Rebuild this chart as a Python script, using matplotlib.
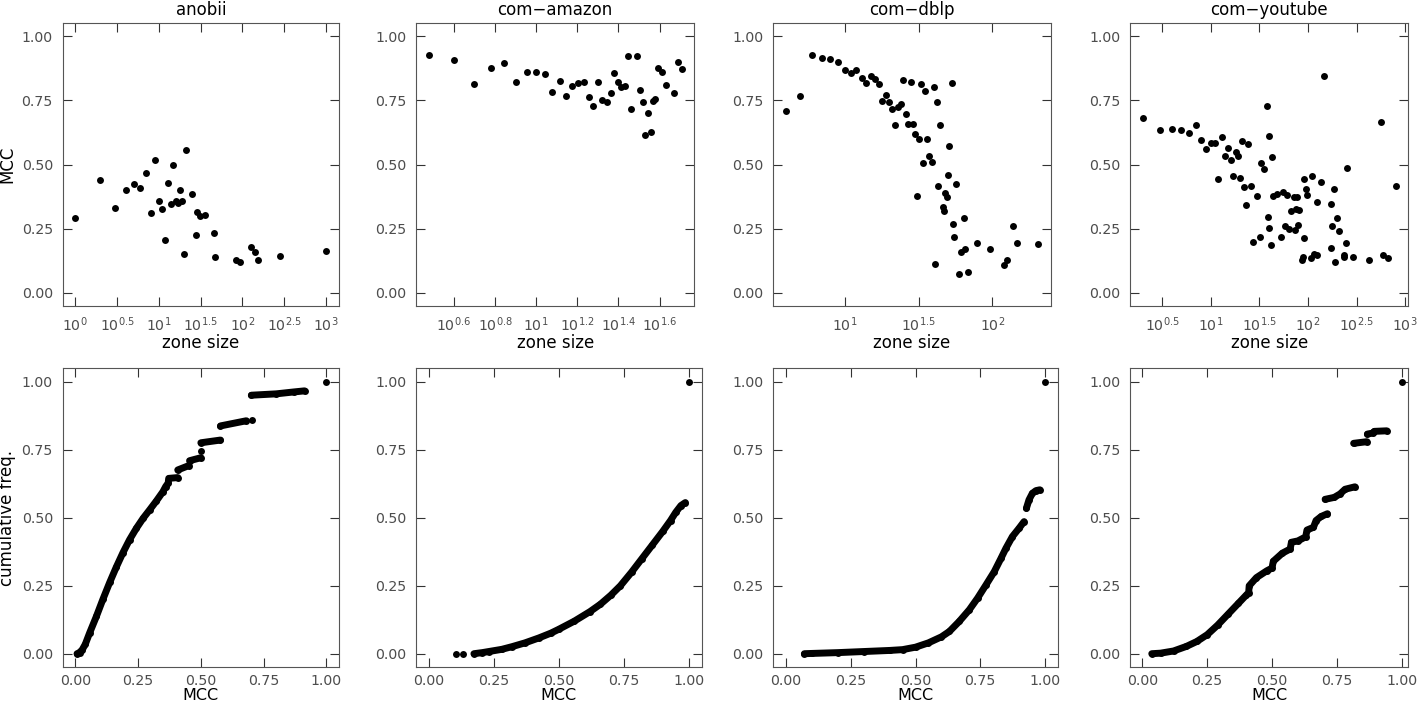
import numpy as np
import matplotlib
matplotlib.use("Agg")
import matplotlib.pyplot as plt
from matplotlib.ticker import FixedLocator, FixedFormatter, NullLocator

plt.rcParams['font.family'] = ['DejaVu Sans']

networks = ["anobii", "com\u2212amazon", "com\u2212dblp", "com\u2212youtube"]

# top row: zone size vs MCC
anobii_size = [1, 2, 3, 4, 5, 6, 7, 8, 9, 10, 11, 12, 13, 14, 15, 16, 17, 18, 19, 20, 21,
               25, 28, 29, 31, 36, 46, 47, 85, 94, 126, 143, 153, 281, 1019]
anobii_mcc = [0.290, 0.441, 0.332, 0.400, 0.425, 0.410, 0.465, 0.310, 0.519, 0.357,
              0.328, 0.205, 0.427, 0.348, 0.499, 0.357, 0.350, 0.399, 0.357, 0.151,
              0.555, 0.385, 0.226, 0.316, 0.299, 0.303, 0.234, 0.141, 0.128, 0.121,
              0.178, 0.160, 0.128, 0.142, 0.164]

amazon_size = [3, 4, 5, 6, 7, 8, 9, 10, 11, 12, 13, 14, 15, 16, 17, 18, 19, 20, 21, 22,
               23, 24, 25, 26, 27, 28, 29, 31, 32, 33, 34, 35, 36, 37, 38, 39, 41, 43,
               47, 49, 51]
amazon_mcc = [0.925, 0.906, 0.812, 0.877, 0.894, 0.823, 0.861, 0.859, 0.853, 0.782,
              0.826, 0.768, 0.806, 0.819, 0.821, 0.761, 0.729, 0.821, 0.752, 0.745,
              0.778, 0.858, 0.821, 0.803, 0.806, 0.921, 0.716, 0.921, 0.790, 0.742,
              0.613, 0.701, 0.626, 0.746, 0.756, 0.877, 0.862, 0.808, 0.777, 0.898,
              0.871]

dblp_size = [4, 5, 6, 7, 8, 9, 10, 11, 12, 13, 14, 15, 16, 17, 18, 19, 20, 21, 22, 23,
             24, 25, 26, 27, 28, 29, 30, 31, 32, 33, 34, 35, 36, 37, 39, 40, 41, 42, 43,
             44, 46, 47, 48, 49, 50, 51, 53, 54, 55, 57, 59, 61, 64, 65, 68, 79, 96,
             119, 126, 137, 147, 204]
dblp_mcc = [0.708, 0.765, 0.926, 0.916, 0.910, 0.899, 0.867, 0.858, 0.867, 0.836,
            0.818, 0.843, 0.832, 0.814, 0.747, 0.769, 0.742, 0.715, 0.652, 0.725,
            0.735, 0.830, 0.698, 0.657, 0.823, 0.658, 0.617, 0.377, 0.600, 0.813,
            0.506, 0.785, 0.599, 0.533, 0.511, 0.803, 0.112, 0.743, 0.415, 0.654,
            0.334, 0.320, 0.390, 0.372, 0.461, 0.572, 0.818, 0.270, 0.217, 0.425,
            0.072, 0.159, 0.292, 0.169, 0.081, 0.195, 0.172, 0.110, 0.129, 0.262,
            0.195, 0.190]

youtube_size = [2, 3, 4, 5, 6, 7, 8, 9, 10, 11, 12, 13, 14, 15, 16, 17, 18, 19, 20, 21,
                22, 23, 24, 26, 27, 30, 32, 33, 35, 38, 39, 40, 40, 42, 43, 44, 48, 53,
                55, 58, 61, 64, 67, 71, 73, 75, 78, 79, 81, 86, 88, 90, 91, 95, 98, 108,
                110, 116, 123, 125, 135, 145, 171, 174, 177, 187, 190, 197, 210, 235,
                237, 244, 250, 288, 428, 568, 585, 659, 796]
youtube_mcc = [0.683, 0.635, 0.637, 0.635, 0.623, 0.652, 0.595, 0.560, 0.585, 0.585,
               0.445, 0.609, 0.534, 0.564, 0.517, 0.455, 0.548, 0.534, 0.446, 0.590,
               0.412, 0.341, 0.579, 0.417, 0.199, 0.379, 0.217, 0.505, 0.483, 0.726,
               0.295, 0.252, 0.612, 0.188, 0.530, 0.379, 0.385, 0.218, 0.394, 0.259,
               0.381, 0.250, 0.319, 0.373, 0.245, 0.325, 0.373, 0.266, 0.323, 0.128,
               0.139, 0.444, 0.214, 0.405, 0.383, 0.137, 0.455, 0.152, 0.352, 0.147,
               0.432, 0.843, 0.173, 0.345, 0.261, 0.403, 0.120, 0.290, 0.241, 0.141,
               0.148, 0.196, 0.488, 0.141, 0.128, 0.667, 0.146, 0.135, 0.417]

# bottom row: cumulative frequency of MCC (nan = gap between runs)
nan = np.nan
anobii_cdf_x = [0.007, 0.017, 0.028, 0.040, 0.057, 0.084, 0.110, 0.137, 0.163, 0.190,
                0.216, 0.243, 0.270, 0.296, 0.323, 0.349, 0.360, 0.370, 0.372, 0.408, nan,
                0.408, 0.452, nan, 0.455, 0.500, nan, 0.500, nan, 0.500, 0.578, nan,
                0.578, 0.681, nan, 0.705, nan, 0.701, 0.800, 0.870, 0.913, nan, 1.0]
anobii_cdf_y = [0.000, 0.004, 0.015, 0.035, 0.076, 0.137, 0.200, 0.262, 0.318, 0.372,
                0.419, 0.461, 0.498, 0.529, 0.562, 0.596, 0.615, 0.628, 0.645, 0.648, nan,
                0.676, 0.692, nan, 0.710, 0.721, nan, 0.747, nan, 0.776, 0.786, nan,
                0.838, 0.857, nan, 0.859, nan, 0.951, 0.956, 0.963, 0.967, nan, 1.0]

amazon_cdf_x = [0.103, nan, 0.132, nan, 0.173, 0.205, 0.230, 0.280, 0.320, 0.370, 0.423,
                0.470, 0.500, 0.560, 0.620, 0.660, 0.700, 0.737, 0.780, 0.820, 0.860,
                0.900, 0.930, 0.950, 0.970, 0.987, nan, 1.0]
amazon_cdf_y = [0.000, nan, 0.000, nan, 0.000, 0.004, 0.008, 0.016, 0.026, 0.040, 0.058,
                0.076, 0.090, 0.120, 0.155, 0.182, 0.215, 0.250, 0.300, 0.350, 0.400,
                0.450, 0.490, 0.520, 0.545, 0.556, nan, 1.0]

dblp_cdf_x = [0.071, 0.100, 0.200, 0.300, 0.400, 0.450, 0.500, 0.550, 0.600, 0.631,
              0.669, 0.708, 0.740, 0.772, 0.804, 0.830, 0.849, 0.874, 0.900, 0.919, nan,
              0.928, 0.938, 0.951, 0.965, 0.980, nan, 1.0]
dblp_cdf_y = [0.000, 0.001, 0.004, 0.008, 0.012, 0.015, 0.024, 0.040, 0.062, 0.082,
              0.119, 0.162, 0.205, 0.253, 0.302, 0.351, 0.388, 0.431, 0.462, 0.486, nan,
              0.535, 0.566, 0.590, 0.600, 0.603, nan, 1.0]

youtube_cdf_x = [0.036, 0.070, 0.120, 0.170, 0.210, 0.250, 0.290, 0.330, 0.370, 0.400,
                 0.410, 0.412, 0.440, 0.480, 0.500, 0.505, 0.540, 0.570, 0.575, 0.600,
                 0.630, 0.635, 0.660, 0.670, 0.690, 0.714, nan, 0.705, 0.740, 0.763,
                 0.782, 0.820, nan, 0.815, 0.866, nan, 0.868, 0.890, 0.895, 0.943, nan,
                 1.0]
youtube_cdf_y = [0.000, 0.002, 0.010, 0.027, 0.045, 0.070, 0.105, 0.145, 0.185, 0.215,
                 0.225, 0.250, 0.280, 0.305, 0.315, 0.340, 0.370, 0.385, 0.410, 0.415,
                 0.430, 0.455, 0.465, 0.490, 0.505, 0.515, nan, 0.568, 0.575, 0.588,
                 0.605, 0.614, nan, 0.774, 0.780, nan, 0.808, 0.812, 0.818, 0.820, nan,
                 1.0]

# tick exponents for the log axes
tick_exps = [[0, 0.5, 1, 1.5, 2, 2.5, 3],
             [0.6, 0.8, 1, 1.2, 1.4, 1.6],
             [1, 1.5, 2],
             [0.5, 1, 1.5, 2, 2.5, 3]]

top_data = [(anobii_size, anobii_mcc), (amazon_size, amazon_mcc),
            (dblp_size, dblp_mcc), (youtube_size, youtube_mcc)]
bottom_data = [(anobii_cdf_x, anobii_cdf_y), (amazon_cdf_x, amazon_cdf_y),
               (dblp_cdf_x, dblp_cdf_y), (youtube_cdf_x, youtube_cdf_y)]
bottom_xlim = [(-0.05, 1.05), (-0.05, 1.05), (-0.05, 1.05), (-0.048, 1.026)]

W, H = 1418, 706
top_cols = [(62.7, 339), (416, 694.3), (773.3, 1050.7), (1130, 1408.3)]
bot_cols = [(62.7, 339), (416, 701.7), (773, 1058), (1130, 1408.3)]
top_rows = (23.3, 305.7)
bot_rows = (368.3, 667.3)

TICK = '#4D4D4D'


def px_axes(fig, cols, rows):
    x0, x1 = cols
    y0, y1 = rows
    return fig.add_axes([x0 / W, 1 - y1 / H, (x1 - x0) / W, (y1 - y0) / H])


def style(ax):
    ax.tick_params(which='both', direction='in', length=6.5, width=0.8,
                   top=True, right=True, pad=7, labelsize=10.2,
                   labelcolor=TICK, color='#333333')
    for s in ax.spines.values():
        s.set_color('#555555')
        s.set_linewidth(0.8)
    ax.set_ylim(-0.05, 1.05)
    ax.set_yticks([0, 0.25, 0.5, 0.75, 1.0])
    ax.set_yticklabels(['0.00', '0.25', '0.50', '0.75', '1.00'])


def exp_label(e):
    return r'$\mathregular{10^{%g}}$' % e


fig = plt.figure(figsize=(W / 100, H / 100), dpi=100)

for i in range(4):
    # top: scatter of MCC by zone size
    ax = px_axes(fig, top_cols[i], top_rows)
    sizes, mcc = top_data[i]
    ax.plot(sizes, mcc, 'o', color='black', ms=5, mew=0)
    ax.set_xscale('log')
    lo, hi = np.log10(min(sizes)), np.log10(max(sizes))
    pad = 0.05 * (hi - lo)
    ax.set_xlim(10 ** (lo - pad), 10 ** (hi + pad))
    ax.xaxis.set_major_locator(FixedLocator([10 ** e for e in tick_exps[i]]))
    ax.xaxis.set_major_formatter(FixedFormatter([exp_label(e) for e in tick_exps[i]]))
    ax.xaxis.set_minor_locator(NullLocator())
    style(ax)
    ax.set_title(networks[i], fontsize=12, pad=6)
    ax.set_xlabel('zone size', fontsize=12, labelpad=0)
    if i == 0:
        ax.set_ylabel('MCC', fontsize=12, labelpad=4)

    # bottom: cumulative frequency
    ax = px_axes(fig, bot_cols[i], bot_rows)
    cx, cy = bottom_data[i]
    ax.plot(cx, cy, '-o', color='black', ms=5, mew=0, lw=5,
            solid_capstyle='round')
    ax.set_xlim(*bottom_xlim[i])
    ax.set_xticks([0, 0.25, 0.5, 0.75, 1.0])
    ax.set_xticklabels(['0.00', '0.25', '0.50', '0.75', '1.00'])
    style(ax)
    ax.tick_params(axis='x', pad=4.5)
    ax.set_xlabel('MCC', fontsize=11.5, labelpad=0)
    if i == 0:
        ax.set_ylabel('cumulative freq.', fontsize=12, labelpad=4)

fig.savefig('out.png', dpi=100)
